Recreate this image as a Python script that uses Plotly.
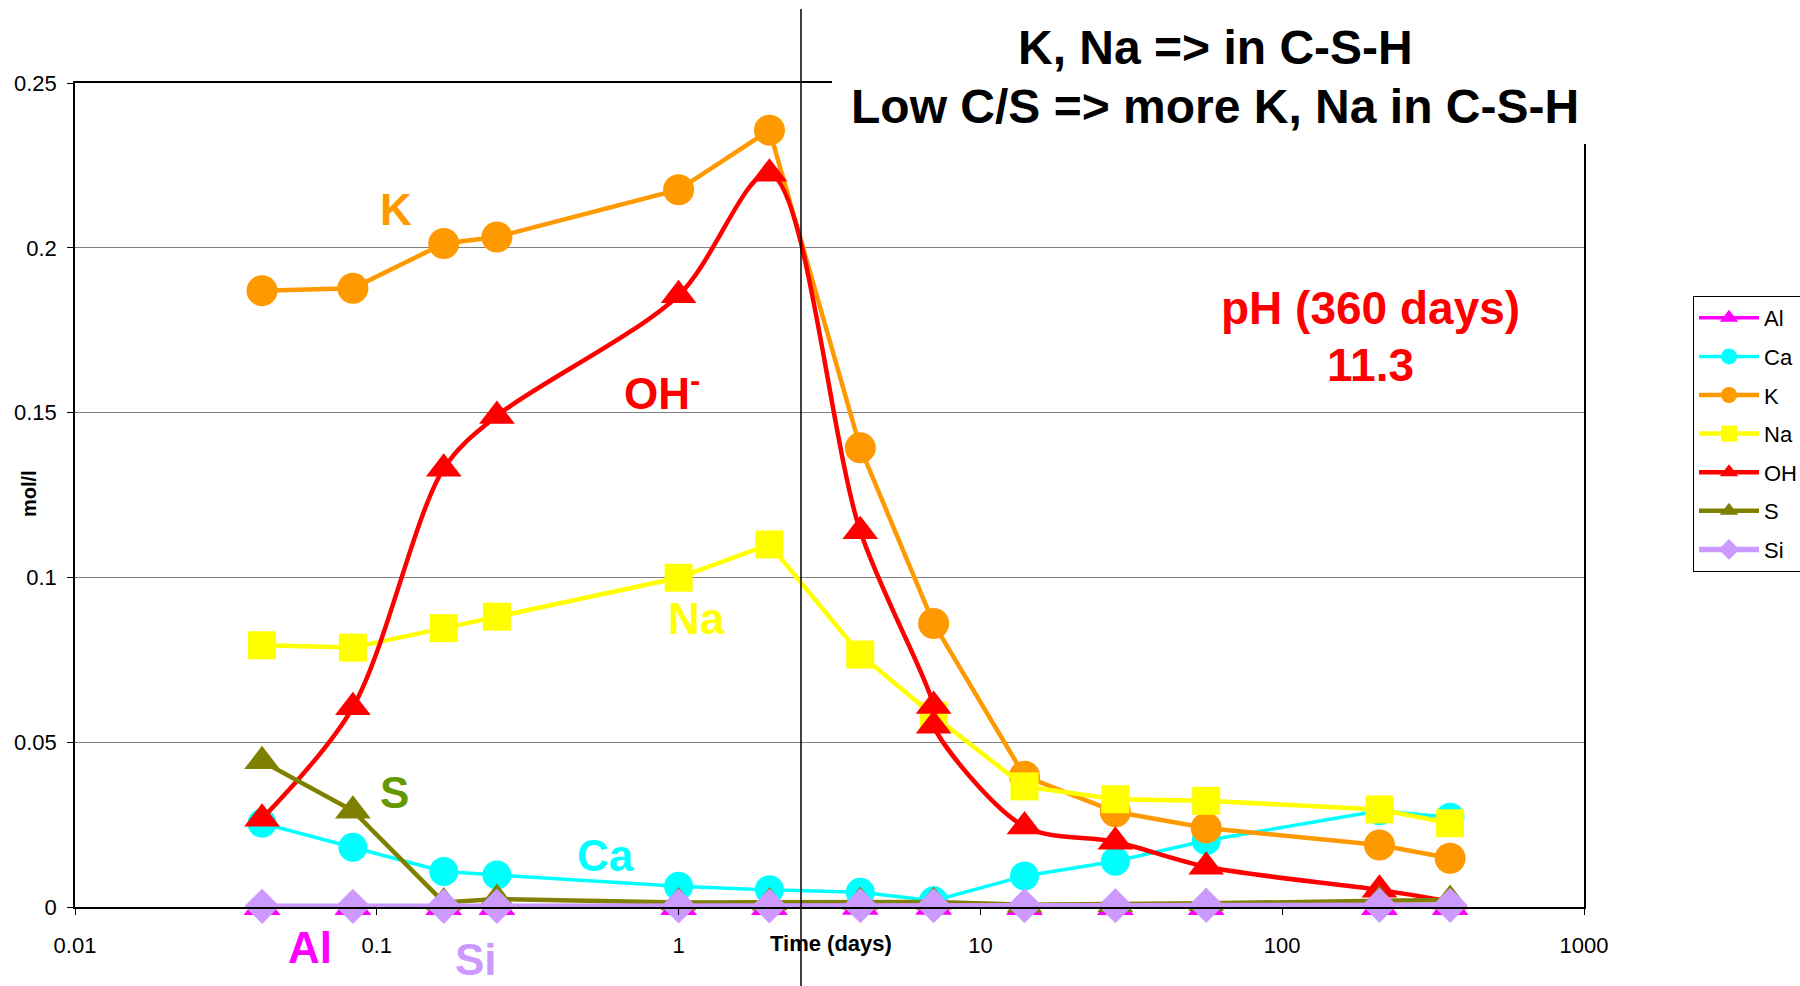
import plotly.graph_objects as go

# ---- data (time in days, concentrations in mol/l) ----
days = [1/24, 1/12, 1/6, 0.25, 1, 2, 4, 7, 14, 28, 56, 210, 360]
days_oh = [1/24, 1/12, 1/6, 0.25, 1, 2, 4, 7, 7, 14, 28, 56, 210, 360]

al = [0.0, 0.0, 0.0, 0.0, 0.0, 0.0, 0.0001, 0.0001, 0.0, 0.0, 0.0, 0.0, 0.0]
ca = [0.0254, 0.0181, 0.0108, 0.0097, 0.0063, 0.0052, 0.0045, 0.0019, 0.0094, 0.0139, 0.0202, 0.0292, 0.0272]
k = [0.187, 0.1877, 0.2013, 0.2033, 0.2176, 0.2357, 0.1393, 0.086, 0.0397, 0.0289, 0.0240, 0.0188, 0.0148]
na = [0.0794, 0.0787, 0.0846, 0.0881, 0.0999, 0.110, 0.0766, 0.058, 0.0366, 0.0327, 0.0322, 0.0296, 0.0254]
oh = [0.0268, 0.0606, 0.133, 0.149, 0.1856, 0.2225, 0.114, 0.061, 0.055, 0.0244, 0.0198, 0.0122, 0.0052, 0.0017]
s = [0.0442, 0.0292, 0.0014, 0.0024, 0.0014, 0.0014, 0.0015, 0.0015, 0.0007, 0.0008, 0.0011, 0.0019, 0.0021]
si = [0.0002, 0.0002, 0.0002, 0.0002, 0.0003, 0.0003, 0.0004, 0.0004, 0.0004, 0.0004, 0.0005, 0.0005, 0.0005]

x_ticks = [0.01, 0.1, 1, 10, 100, 1000]
x_tick_labels = ["0.01", "0.1", "1", "10", "100", "1000"]
y_ticks = [0, 0.05, 0.1, 0.15, 0.2, 0.25]
y_tick_labels = ["0", "0.05", "0.1", "0.15", "0.2", "0.25"]

# ---- layout geometry (pixels) ----
W, H = 1800, 986
L, R, T, B = 75, 1584, 83, 907


def px(xp):
    return (xp - L) / (R - L)


def py(yp):
    return (B - yp) / (B - T)


FONT = "Liberation Sans, Arial, sans-serif"

fig = go.Figure()

series = [
    ("Al", days, al, "#FF00FF", "triangle-up", 32, 3.5, "linear"),
    ("Ca", days, ca, "#00FFFF", "circle", 29, 3.5, "linear"),
    ("K", days, k, "#FF9900", "circle", 31, 4.5, "linear"),
    ("Na", days, na, "#FFFF00", "square", 28, 4.5, "linear"),
    ("OH", days_oh, oh, "#FF0000", "triangle-up", 31, 4.5, "spline"),
    ("S", days, s, "#808000", "triangle-up", 31, 4.5, "linear"),
    ("Si", days, si, "#CC99FF", "diamond", 27, 5.5, "linear"),
]

for name, xs, ys, col, sym, msize, lw, shape in series:
    fig.add_trace(go.Scatter(
        x=xs, y=ys, name=name, mode="lines+markers",
        line=dict(color=col, width=lw, shape=shape, smoothing=0.9),
        marker=dict(color=col, symbol=sym, size=msize),
        legendgroup=name, cliponaxis=False,
    ))

shapes = [
    # white box behind the heading
    dict(type="rect", xref="paper", yref="paper",
         x0=px(832), x1=px(1590), y0=py(144), y1=py(-5),
         fillcolor="white", line=dict(width=0), layer="above"),
    # vertical marker line
    dict(type="line", xref="paper", yref="paper",
         x0=px(801), x1=px(801), y0=py(986), y1=py(9),
         line=dict(color="black", width=1.5), layer="above"),
]

annotations = []


def ann(text, xp, yp, color, size, bold=True, angle=0):
    annotations.append(dict(
        text=("<b>%s</b>" % text) if bold else text,
        x=px(xp), y=py(yp), xref="paper", yref="paper",
        showarrow=False, textangle=angle,
        font=dict(family=FONT, size=size, color=color),
        xanchor="center", yanchor="middle",
    ))


ann("K, Na =&gt; in C-S-H", 1215, 48, "black", 48)
ann("Low C/S =&gt; more K, Na in C-S-H", 1215, 106, "black", 48)
ann("pH (360 days)", 1370, 308, "#FF0000", 46)
ann("11.3", 1370, 365, "#FF0000", 46)
ann("K", 396, 209, "#FF9900", 44)
ann("OH<sup>-</sup>", 662, 390, "#FF0000", 44)
ann("Na", 696, 618, "#FFFF00", 44)
ann("S", 394, 792, "#669900", 44)
ann("Ca", 605, 855, "#00FFFF", 44)
ann("Al", 310, 947, "#FF00FF", 44)
ann("Si", 476, 960, "#CC99FF", 44)
ann("Time (days)", 831, 944, "black", 22)
ann("mol/l", 29, 494, "black", 20, angle=-90)

fig.update_layout(
    width=W, height=H,
    margin=dict(l=L, r=W - R, t=T, b=H - B, pad=0, autoexpand=False),
    paper_bgcolor="white", plot_bgcolor="white",
    font=dict(family=FONT, size=22, color="black"),
    showlegend=True,
    legend=dict(
        x=px(1693), y=py(296), xanchor="left", yanchor="top",
        bordercolor="black", borderwidth=1, bgcolor="white",
        font=dict(family=FONT, size=22, color="black"),
        itemsizing="trace", itemwidth=60, tracegroupgap=7,
    ),
    xaxis=dict(
        type="log", range=[-2, 3],
        tickvals=x_ticks, ticktext=x_tick_labels,
        ticks="outside", ticklen=6, tickcolor="black",
        showgrid=False, zeroline=False,
        showline=True, linecolor="black", linewidth=1.5, mirror=True,
        ticklabelstandoff=12,
        tickfont=dict(family=FONT, size=22),
    ),
    yaxis=dict(
        range=[0, 0.25],
        tickvals=y_ticks, ticktext=y_tick_labels,
        ticks="outside", ticklen=6, tickcolor="black",
        showgrid=True, gridcolor="#808080", gridwidth=1,
        zeroline=False,
        showline=True, linecolor="black", linewidth=1.5, mirror=True,
        ticklabelstandoff=6,
        tickfont=dict(family=FONT, size=22),
    ),
    shapes=shapes,
    annotations=annotations,
)

fig.write_html("out.html")
